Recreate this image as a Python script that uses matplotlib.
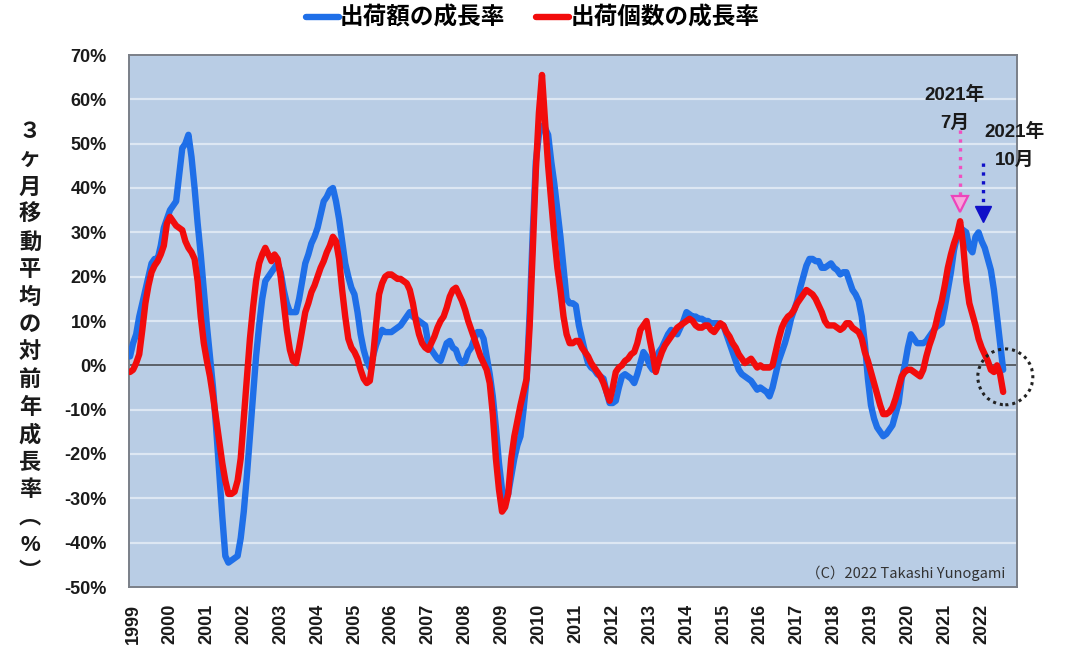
import matplotlib
matplotlib.use('Agg')
import matplotlib.pyplot as plt
from matplotlib.patches import Ellipse
import numpy as np

plt.rcParams['font.family'] = ['Liberation Sans', 'Noto Sans CJK JP']

# ---- data: 3-month moving average, YoY growth (%), monthly from Jan 1999 ----
years = list(range(1999, 2023))
year_labels = [str(y) for y in years]
series_names = ['出荷額の成長率', '出荷個数の成長率']

value_growth = [
    2, 5, 7, 11, 14, 17, 20, 23, 24, 24, 27, 31,                 # 1999
    33, 35, 36, 37, 43, 49, 50, 52, 47, 40, 32, 25,              # 2000
    17, 9, 2, -5, -14, -24, -34, -43, -44.5, -44, -43.5, -43,    # 2001
    -39, -33, -25, -16, -7, 2, 9, 15, 19, 20, 21, 22,            # 2002
    23, 21, 17, 14, 12, 12, 12, 15, 19, 23, 25, 27.5,            # 2003
    29, 31, 34, 37, 38, 39.5, 40, 37, 33, 28, 23, 20,            # 2004
    17.5, 16, 12, 7, 3.5, 1, -0.5, 2, 4.5, 6.5, 8, 7.5,          # 2005
    7.5, 7.5, 8, 8.5, 9, 10, 11, 12, 11, 10.5, 10, 9.5,          # 2006
    9, 5, 3.5, 2.5, 1.5, 1, 3, 5, 5.5, 4, 3.5, 1.5,              # 2007
    0.5, 1, 3, 4, 6, 7.5, 7.5, 6, 2, -2, -7, -14,                # 2008
    -22, -28, -30.5, -29, -25, -21, -18, -16, -10, -3, 12, 30,   # 2009
    46, 52, 54, 53.5, 52, 46, 41, 35, 29, 22, 15, 14,            # 2010
    14, 13.5, 9, 6, 3, 0.5, -0.5, -1, -2, -2.5, -3, -6,          # 2011
    -8.5, -8.5, -8, -5, -2.5, -2, -2.5, -3, -4, -2, 0.5, 3,      # 2012
    2, 0, -1, 1, 3, 4, 5.5, 7, 8, 7.5, 7, 8.5,                   # 2013
    10, 12, 11.5, 11, 11, 10.5, 10.5, 10, 10, 9.5, 9.5, 9.5,     # 2014
    9, 9, 7, 5, 3, 1, -1, -2, -2.5, -3, -3.5, -4.5,              # 2015
    -5.5, -5, -5.5, -6, -7, -5, -2, 1, 3, 5, 7.5, 10.5,          # 2016
    12.5, 14.5, 17.5, 20, 22.5, 24, 24, 23.5, 23.5, 22, 22, 22.5,  # 2017
    23, 22, 21.5, 20.5, 21, 21, 19, 17, 16, 14.5, 11, 5,         # 2018
    -3, -9, -12, -14, -15, -16, -15.5, -14.5, -13.5, -11, -8.5, -3,  # 2019
    0, 4, 7, 6, 5, 5, 5, 5.5, 6.5, 7.5, 8.5, 9,                  # 2020
    9.5, 13, 17, 21, 26, 29, 31, 30.5, 30, 26.5, 25.5, 29,       # 2021
    30, 28, 26.5, 24, 21.5, 17, 11, 5, -1,                       # 2022
]

units_growth = [
    -1.5, -1, 0.5, 2.5, 8, 14, 18, 21, 22.5, 23.5, 25, 27,       # 1999
    32, 33.5, 32.5, 31.5, 31, 30.5, 28, 26.5, 25.5, 24, 19, 11,  # 2000
    5, 1, -2.5, -7, -12, -17, -22, -26, -29, -29, -28.5, -26,    # 2001
    -21, -12, -3, 6, 13, 19, 23, 25, 26.5, 25, 23.5, 25,         # 2002
    24, 20, 14, 8, 3.5, 1, 0.5, 4, 8, 12, 14, 16.5,              # 2003
    18, 20, 22, 23.5, 25.5, 27, 29, 28, 24, 17, 11, 6,           # 2004
    4, 3, 1.5, -1, -3, -4, -3.5, 1.5, 9, 16, 18.5, 20,           # 2005
    20.5, 20.5, 20, 19.5, 19.5, 19, 18.5, 17, 14, 10, 7, 5,      # 2006
    4, 3.5, 5, 6.5, 8.5, 10, 11, 13, 15.5, 17, 17.5, 16,         # 2007
    14.5, 12.5, 10, 8, 6, 4, 2, 0.5, -1, -4, -11, -21,           # 2008
    -28, -33, -32, -29, -21, -16, -12.5, -9, -6, -3, 9, 26,      # 2009
    44, 57, 65.5, 55, 45, 37, 29, 22, 17, 11, 7, 5,              # 2010
    5, 5.5, 5.5, 4, 3, 2, 0.5, -0.5, -1.5, -2.5, -4, -6,         # 2011
    -8, -5, -1.5, -0.5, 0, 1, 1.5, 2.5, 3, 5, 8, 9,              # 2012
    10, 6, 2.5, -1.5, 1, 3, 4.5, 5.5, 6.5, 7.5, 8.5, 9,          # 2013
    9.5, 10, 10.5, 10, 9, 8.5, 8.5, 9, 9, 8, 7.5, 8.5,           # 2014
    9.5, 9, 7.5, 6.5, 5, 4, 2.5, 1.5, 0.5, 1, 1.5, 0.5,          # 2015
    -0.5, 0, -0.5, -0.5, -0.5, 0, 3, 6, 8.5, 10, 11, 11.5,       # 2016
    12.5, 14, 15, 16, 17, 16.5, 16, 15, 13.5, 12, 10, 9,         # 2017
    9, 9, 8.5, 8, 8.5, 9.5, 9.5, 8.5, 8, 7.5, 6, 3,              # 2018
    1, -1.5, -4, -6.5, -9, -11, -11, -10.5, -9.5, -7.5, -5, -2.5,  # 2019
    -1.5, -1, -1, -1.5, -2, -2.5, -1, 2, 4.5, 6.5, 9, 12,        # 2020
    14.5, 18, 22, 25, 27.5, 29.5, 32.5, 27, 19, 14, 11.5, 9,     # 2021
    6, 4, 2.5, 1, -1, -1.5, 0, -2, -6,                           # 2022
]

months = np.arange(len(value_growth))
y_ticks = list(range(-50, 71, 10))
y_tick_labels = [f'{v}%' for v in y_ticks]

ylabel_chars = ['３', 'ヶ', '月', '移', '動', '平', '均', 'の', '対', '前',
                '年', '成', '長', '率', '︵', '%', '︶']

# annotation anchors (month index)
JUL_2021 = 270
OCT_2021_ARROW = 277.4

# ---- figure ----
W, H = 1080, 657
fig = plt.figure(figsize=(W / 100, H / 100), dpi=100)
ax = fig.add_axes([129 / W, 70 / H, 888 / W, 532 / H])
ax.set_facecolor('#b9cde5')

ax.set_xlim(-0.33, 288.5)
ax.set_ylim(-50, 70)
ax.set_yticks(y_ticks)
ax.set_yticklabels(y_tick_labels)
ax.yaxis.grid(True, color='#dde7f3', lw=1.6)
ax.set_axisbelow(True)
ax.axhline(0, color='#5a6068', lw=1.4, zorder=1.5)

ax.plot(months, value_growth, color='#1f6fe8', lw=4.6,
        solid_joinstyle='round', solid_capstyle='round', label=series_names[0], zorder=3)
ax.plot(months, units_growth, color='#f20c0c', lw=4.6,
        solid_joinstyle='round', solid_capstyle='round', label=series_names[1], zorder=4)

ax.set_xticks([12 * j + 1 for j in range(len(years))])
ax.set_xticklabels(year_labels, rotation=90)
ax.tick_params(axis='both', length=0, labelsize=13, colors='#1a1a1a')
ax.tick_params(axis='x', pad=12)
ax.tick_params(axis='y', pad=16)
for lbl in ax.get_xticklabels() + ax.get_yticklabels():
    lbl.set_fontweight('bold')

for s in ax.spines.values():
    s.set_color('#7a7f88')
    s.set_linewidth(1.4)

# legend
handles, labels = ax.get_legend_handles_labels()
fig.legend(handles, labels, loc='center', bbox_to_anchor=(0.493, 0.972), ncol=2,
           frameon=False, prop={'size': 17, 'weight': 'bold'},
           handlelength=1.4, handletextpad=0.05, columnspacing=1.3)

# vertical y-axis label
for j, ch in enumerate(ylabel_chars):
    ypx = 133 + 27.5 * j
    fig.text(30 / W, 1 - ypx / H, ch, ha='center', va='center',
             fontsize=16, fontweight='bold', color='#1a1a1a')

# copyright
ax.text(0.9865, 0.026, '（C）2022 Takashi Yunogami', transform=ax.transAxes,
        ha='right', va='center', fontsize=10.5, family=['Noto Sans CJK JP'], color='#333333')

# annotations
ax.text(JUL_2021 - 1.7, 60.9, '2021年', ha='center', va='center', fontsize=13.5,
        fontweight='bold', clip_on=False, color='#1a1a1a')
ax.text(JUL_2021 - 1.7, 54.6, '7月', ha='center', va='center', fontsize=13.5,
        fontweight='bold', clip_on=False, color='#1a1a1a')
ax.text(287.8, 52.6, '2021年', ha='center', va='center', fontsize=13.5,
        fontweight='bold', clip_on=False, color='#1a1a1a')
ax.text(287.8, 46.3, '10月', ha='center', va='center', fontsize=13.5,
        fontweight='bold', clip_on=False, color='#1a1a1a')

ax.plot([JUL_2021, JUL_2021], [53, 38], ls=':', color='#f050c0', lw=2.4, zorder=5)
ax.plot([JUL_2021], [36.3], marker='v', ms=12, mfc='#f7a8dd', mec='#ee44bb', mew=1.6, zorder=5)
ax.plot([OCT_2021_ARROW, OCT_2021_ARROW], [45.6, 36], ls=':', color='#1010c8', lw=2.4, zorder=5)
ax.plot([OCT_2021_ARROW], [34.2], marker='v', ms=11, mfc='#1010c8', mec='#1010c8', zorder=5)

ax.add_patch(Ellipse((284.7, -2.6), width=17.9, height=12.6, fill=False,
                     ls=(0, (1, 1.3)), lw=2.2, ec='#222222', clip_on=False, zorder=6))

fig.savefig('out.png', dpi=100, facecolor='white')
